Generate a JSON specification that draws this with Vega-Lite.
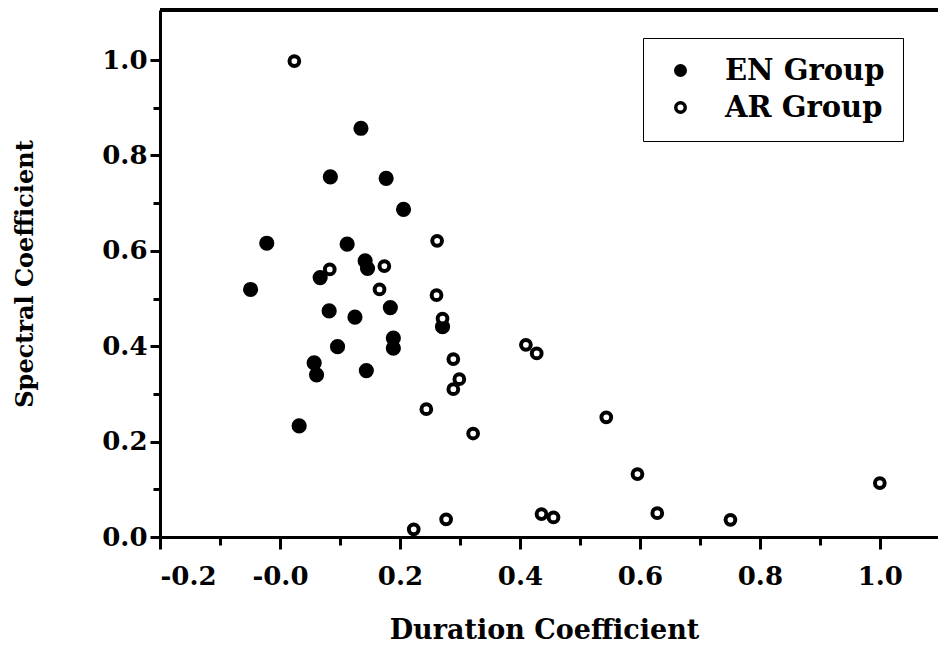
{
  "$schema": "https://vega.github.io/schema/vega-lite/v6.json",
  "autosize": "none",
  "width": 778,
  "height": 527,
  "padding": {"left": 160, "top": 10, "right": 0, "bottom": 121},
  "background": "white",
  "config": {
    "view": {"stroke": null},
    "font": "DejaVu Serif",
    "axis": {"grid": false, "domainColor": "black", "domainWidth": 3, "tickColor": "black", "tickWidth": 3, "labelColor": "black", "titleColor": "black", "labelFont": "DejaVu Serif", "titleFont": "DejaVu Serif", "labelFontWeight": "bold", "titleFontWeight": "bold"}
  },
  "data": {"values": [
    {"group": "EN Group", "duration": 0.135, "spectral": 0.857},
    {"group": "EN Group", "duration": 0.084, "spectral": 0.755},
    {"group": "EN Group", "duration": 0.177, "spectral": 0.752},
    {"group": "EN Group", "duration": 0.206, "spectral": 0.687},
    {"group": "EN Group", "duration": -0.022, "spectral": 0.616},
    {"group": "EN Group", "duration": 0.112, "spectral": 0.614},
    {"group": "EN Group", "duration": 0.142, "spectral": 0.579},
    {"group": "EN Group", "duration": 0.146, "spectral": 0.563},
    {"group": "EN Group", "duration": 0.067, "spectral": 0.544},
    {"group": "EN Group", "duration": -0.049, "spectral": 0.519},
    {"group": "EN Group", "duration": 0.082, "spectral": 0.474},
    {"group": "EN Group", "duration": 0.184, "spectral": 0.481},
    {"group": "EN Group", "duration": 0.125, "spectral": 0.461},
    {"group": "EN Group", "duration": 0.271, "spectral": 0.441},
    {"group": "EN Group", "duration": 0.189, "spectral": 0.417},
    {"group": "EN Group", "duration": 0.189, "spectral": 0.396},
    {"group": "EN Group", "duration": 0.096, "spectral": 0.399},
    {"group": "EN Group", "duration": 0.057, "spectral": 0.365},
    {"group": "EN Group", "duration": 0.061, "spectral": 0.340},
    {"group": "EN Group", "duration": 0.144, "spectral": 0.349},
    {"group": "EN Group", "duration": 0.032, "spectral": 0.233},
    {"group": "AR Group", "duration": 0.024, "spectral": 0.998},
    {"group": "AR Group", "duration": 0.262, "spectral": 0.621},
    {"group": "AR Group", "duration": 0.174, "spectral": 0.568},
    {"group": "AR Group", "duration": 0.083, "spectral": 0.561},
    {"group": "AR Group", "duration": 0.166, "spectral": 0.519},
    {"group": "AR Group", "duration": 0.261, "spectral": 0.507},
    {"group": "AR Group", "duration": 0.271, "spectral": 0.458},
    {"group": "AR Group", "duration": 0.289, "spectral": 0.373},
    {"group": "AR Group", "duration": 0.299, "spectral": 0.331},
    {"group": "AR Group", "duration": 0.289, "spectral": 0.310},
    {"group": "AR Group", "duration": 0.244, "spectral": 0.268},
    {"group": "AR Group", "duration": 0.410, "spectral": 0.403},
    {"group": "AR Group", "duration": 0.428, "spectral": 0.385},
    {"group": "AR Group", "duration": 0.544, "spectral": 0.251},
    {"group": "AR Group", "duration": 0.322, "spectral": 0.217},
    {"group": "AR Group", "duration": 0.223, "spectral": 0.016},
    {"group": "AR Group", "duration": 0.277, "spectral": 0.037},
    {"group": "AR Group", "duration": 0.436, "spectral": 0.048},
    {"group": "AR Group", "duration": 0.456, "spectral": 0.041},
    {"group": "AR Group", "duration": 0.596, "spectral": 0.132},
    {"group": "AR Group", "duration": 0.629, "spectral": 0.050},
    {"group": "AR Group", "duration": 0.751, "spectral": 0.036},
    {"group": "AR Group", "duration": 1.0, "spectral": 0.113}
  ]},
  "layer": [
    {
      "mark": {"type": "rule", "color": "black", "strokeWidth": 2.5},
      "encoding": {"y": {"datum": 1.105, "type": "quantitative"}}
    },
    {
      "mark": {"type": "point", "shape": "circle", "stroke": "black", "strokeWidth": 4, "opacity": 1, "filled": false},
      "encoding": {
        "x": {
          "field": "duration", "type": "quantitative",
          "scale": {"domain": [-0.2, 1.097], "nice": false, "zero": false},
          "axis": {
            "title": "Duration Coefficient",
            "titleFontSize": 27,
            "titleX": 384,
            "titleY": 101,
            "titleBaseline": "alphabetic",
            "values": [-0.2, -0.1, 0, 0.1, 0.2, 0.3, 0.4, 0.5, 0.6, 0.7, 0.8, 0.9, 1.0],
            "labelExpr": "round(datum.value*10) % 2 != 0 ? '' : (abs(datum.value) < 0.001 ? '-0.0' : (datum.value < 0 ? '-' : '') + format(abs(datum.value), '.1f'))",
            "labelFontSize": 26,
            "labelPadding": 14,
            "tickSize": {"condition": {"test": "round(datum.value*10) % 2 == 0", "value": 12}, "value": 8}
          }
        },
        "y": {
          "field": "spectral", "type": "quantitative",
          "scale": {"domain": [0, 1.105], "nice": false},
          "axis": {
            "title": "Spectral Coefficient",
            "titleFontSize": 24,
            "titleX": -135,
            "titleBaseline": "middle",
            "values": [0, 0.1, 0.2, 0.3, 0.4, 0.5, 0.6, 0.7, 0.8, 0.9, 1.0],
            "labelExpr": "round(datum.value*10) % 2 != 0 ? '' : format(datum.value, '.1f')",
            "labelFontSize": 26,
            "labelPadding": 3,
            "tickSize": {"condition": {"test": "round(datum.value*10) % 2 == 0", "value": 10}, "value": 7}
          }
        },
        "fill": {
          "field": "group", "type": "nominal",
          "scale": {"domain": ["EN Group", "AR Group"], "range": ["black", "white"]},
          "legend": {
            "title": null,
            "orient": "none",
            "legendX": 483,
            "legendY": 28,
            "strokeColor": "black",
            "padding": 18,
            "symbolOffset": 5,
            "symbolType": "circle",
            "symbolSize": 90,
            "symbolStrokeColor": "black",
            "symbolStrokeWidth": 3.5,
            "labelOffset": 30,
            "labelFont": "DejaVu Serif",
            "labelFontWeight": "bold",
            "labelFontSize": 29,
            "labelColor": "black",
            "rowPadding": 7
          }
        },
        "size": {
          "condition": {"test": "datum.group == 'EN Group'", "value": 125},
          "value": 95
        }
      }
    }
  ]
}
